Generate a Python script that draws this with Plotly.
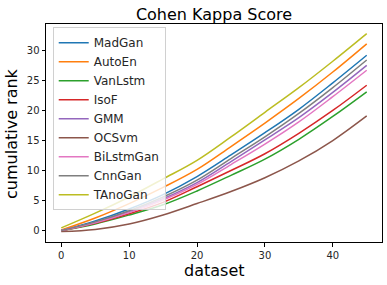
import plotly.graph_objects as go

x_vals = [0, 5, 10, 15, 20, 25, 30, 35, 40, 45]

mad_gan = [0.0, 1.6, 3.6, 6.0, 9.0, 12.6, 16.3, 20.2, 24.6, 29.2]
auto_en = [0.1, 2.1, 4.5, 7.2, 10.2, 14.0, 17.9, 22.0, 26.4, 31.1]
van_lstm = [0.0, 1.1, 2.6, 4.3, 6.6, 9.2, 11.9, 15.2, 19.0, 23.1]
iso_f = [-0.05, 1.2, 2.8, 4.7, 7.3, 10.0, 12.8, 16.2, 20.0, 24.2]
gmm = [0.0, 1.35, 3.1, 5.3, 8.0, 11.5, 15.1, 18.8, 23.0, 27.5]
oc_svm = [-0.15, 0.2, 1.1, 2.6, 4.5, 6.5, 8.8, 11.6, 15.0, 19.1]
bilstm_gan = [0.0, 1.3, 3.0, 5.1, 7.7, 11.0, 14.4, 18.1, 22.3, 26.7]
cnn_gan = [0.0, 1.45, 3.3, 5.6, 8.4, 12.0, 15.6, 19.5, 23.8, 28.4]
tanogan = [0.45, 2.9, 5.6, 8.6, 11.7, 15.6, 19.7, 23.8, 28.2, 32.8]

names = ["MadGan", "AutoEn", "VanLstm", "IsoF", "GMM", "OCSvm", "BiLstmGan", "CnnGan", "TAnoGan"]
series = [mad_gan, auto_en, van_lstm, iso_f, gmm, oc_svm, bilstm_gan, cnn_gan, tanogan]
colors = ["#1f77b4", "#ff7f0e", "#2ca02c", "#d62728", "#9467bd",
          "#8c564b", "#e377c2", "#7f7f7f", "#bcbd22"]

x_ticks = [0, 10, 20, 30, 40]
y_ticks = [0, 5, 10, 15, 20, 25, 30]

fig = go.Figure()
for name, ys, c in zip(names, series, colors):
    fig.add_trace(go.Scatter(x=x_vals, y=ys, mode="lines", name=name,
                             line=dict(color=c, width=1.5, shape="spline")))

font_family = "DejaVu Sans"
fig.update_layout(
    width=387, height=285,
    margin=dict(l=46, r=5, t=24, b=43, autoexpand=False),
    paper_bgcolor="white", plot_bgcolor="white",
    font=dict(family=font_family, color="#262626", size=10),
    title=dict(text="Cohen Kappa Score", x=0.5, xref="paper", xanchor="center",
               y=1 - 14 / 285, yref="container", yanchor="middle",
               font=dict(size=16, color="black")),
    showlegend=True,
    legend=dict(x=0.02, y=0.985, xanchor="left", yanchor="top",
                bgcolor="rgba(255,255,255,0.8)", bordercolor="#d0d0d0", borderwidth=1,
                font=dict(size=12, color="#262626"), tracegroupgap=0,
                itemwidth=30),
    annotations=[
        dict(text="dataset", xref="paper", yref="paper", x=0.5, y=-28 / 218,
             xanchor="center", yanchor="middle", showarrow=False,
             font=dict(size=16, color="black")),
        dict(text="cumulative rank", xref="paper", yref="paper", x=-35 / 335.7, y=0.5,
             xanchor="center", yanchor="middle", textangle=-90, showarrow=False,
             font=dict(size=16, color="black")),
    ],
)
fig.update_xaxes(range=[-2.25, 47.25], tickvals=x_ticks, ticktext=[str(t) for t in x_ticks],
                 showgrid=False, zeroline=False, showline=True, linecolor="black",
                 linewidth=1, mirror=True, ticks="outside", ticklen=3.5, tickcolor="black",
                 tickfont=dict(size=10), automargin=False)
fig.update_yaxes(range=[-1.9, 34.4], tickvals=y_ticks, ticktext=[str(t) for t in y_ticks],
                 showgrid=False, zeroline=False, showline=True, linecolor="black",
                 linewidth=1, mirror=True, ticks="outside", ticklen=3.5, tickcolor="black",
                 tickfont=dict(size=10), automargin=False)

fig.write_html("out.html", config={"displayModeBar": False},
               post_script="document.body.style.margin='0';document.body.style.padding='0';")
